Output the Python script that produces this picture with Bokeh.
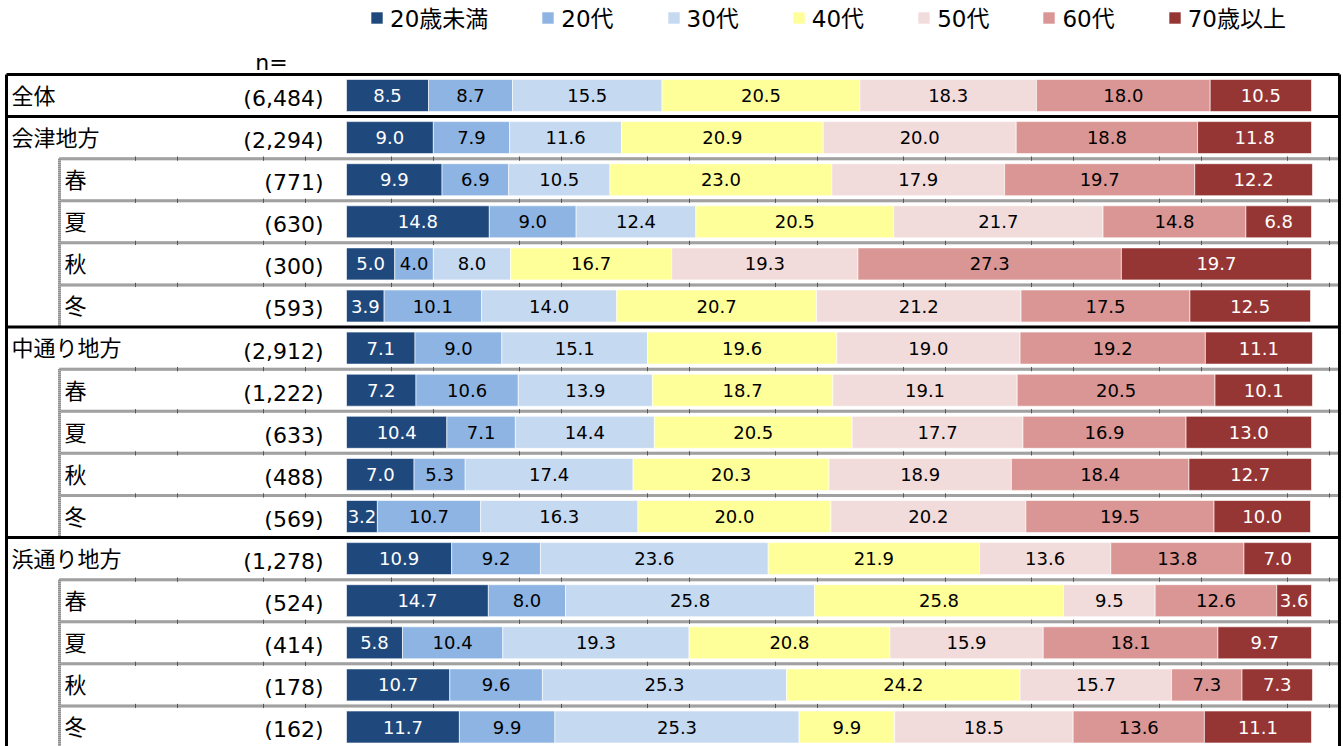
from bokeh.plotting import figure
from bokeh.models import ColumnDataSource, Range1d, Label
from bokeh.embed import file_html
from bokeh.resources import INLINE
from bokeh.core.properties import value

# ---------------- data ----------------
rows = ["全体", "会津地方", "春", "夏", "秋", "冬",
        "中通り地方", "春", "夏", "秋", "冬",
        "浜通り地方", "春", "夏", "秋", "冬"]
n_labels = ["(6,484)", "(2,294)", "(771)", "(630)", "(300)", "(593)",
            "(2,912)", "(1,222)", "(633)", "(488)", "(569)",
            "(1,278)", "(524)", "(414)", "(178)", "(162)"]
is_sub = [False, False, True, True, True, True,
          False, True, True, True, True,
          False, True, True, True, True]
series = ["20歳未満", "20代", "30代", "40代", "50代", "60代", "70歳以上"]
colors = ["#1F497D", "#8DB4E2", "#C5D9F1", "#FFFF99", "#F2DCDB", "#DA9694", "#963634"]
text_colors = ["white", "black", "black", "black", "black", "black", "white"]

under20 = [8.5, 9.0, 9.9, 14.8, 5.0, 3.9, 7.1, 7.2, 10.4, 7.0, 3.2, 10.9, 14.7, 5.8, 10.7, 11.7]
age20 = [8.7, 7.9, 6.9, 9.0, 4.0, 10.1, 9.0, 10.6, 7.1, 5.3, 10.7, 9.2, 8.0, 10.4, 9.6, 9.9]
age30 = [15.5, 11.6, 10.5, 12.4, 8.0, 14.0, 15.1, 13.9, 14.4, 17.4, 16.3, 23.6, 25.8, 19.3, 25.3, 25.3]
age40 = [20.5, 20.9, 23.0, 20.5, 16.7, 20.7, 19.6, 18.7, 20.5, 20.3, 20.0, 21.9, 25.8, 20.8, 24.2, 9.9]
age50 = [18.3, 20.0, 17.9, 21.7, 19.3, 21.2, 19.0, 19.1, 17.7, 18.9, 20.2, 13.6, 9.5, 15.9, 15.7, 18.5]
age60 = [18.0, 18.8, 19.7, 14.8, 27.3, 17.5, 19.2, 20.5, 16.9, 18.4, 19.5, 13.8, 12.6, 18.1, 7.3, 13.6]
over70 = [10.5, 11.8, 12.2, 6.8, 19.7, 12.5, 11.1, 10.1, 13.0, 12.7, 10.0, 7.0, 3.6, 9.7, 7.3, 11.1]

values = [under20, age20, age30, age40, age50, age60, over70]

# ---------------- layout helpers ----------------
W, H = 1343, 746
X0, S = 346.0, 9.65           # pixel of 0 % and pixels per %
Y0, R = 95.0, 42.1            # pixel of first row centre and pixels per row


def rx(px):
    return (px - X0) / S


def ry(py):
    return (py - Y0) / R


x_start, x_end = -X0 / S, (W - X0) / S
y_bottom, y_top = (H - Y0) / R, -Y0 / R

p = figure(width=W, height=H, x_range=Range1d(x_start, x_end),
           y_range=Range1d(y_bottom, y_top), output_backend="svg",
           toolbar_location=None, min_border=0, x_axis_type=None,
           y_axis_type=None)
p.outline_line_color = None
p.background_fill_color = "white"
p.border_fill_color = "white"

# ---------------- table lines ----------------
xL, xR, xD = rx(6), rx(1339), rx(59)
nrows = len(rows)

dot_y = [i - 0.5 for i in range(1, nrows) if is_sub[i]]
p.segment(x0=[xD] * len(dot_y), x1=[xR] * len(dot_y), y0=dot_y, y1=dot_y,
          line_color="#c4c4c4", line_width=3)
p.segment(x0=[xD] * len(dot_y), x1=[xR] * len(dot_y), y0=dot_y, y1=dot_y,
          line_color="#7f7f7f", line_width=3, line_dash="1 1")

blocks = []
i = 0
while i < nrows:
    if is_sub[i]:
        j = i
        while j + 1 < nrows and is_sub[j + 1]:
            j += 1
        blocks.append((i - 0.5, j + 0.5 if j + 1 < nrows else y_bottom + 1))
        i = j + 1
    else:
        i += 1
for b0, b1 in blocks:
    p.segment(x0=[xD], x1=[xD], y0=[b0], y1=[b1], line_color="#c4c4c4", line_width=3)
    p.segment(x0=[xD], x1=[xD], y0=[b0], y1=[b1], line_color="#7f7f7f",
              line_width=3, line_dash="1 1")

tick_ref = [135, 177, 263, 305, 391, 433, 519, 561, 647, 689, 775, 817,
            903, 945, 1031, 1073, 1159, 1201, 1287, 1329]
tx0, ty0, ty1 = [], [], []
for yy in dot_y:
    for t in tick_ref:
        tx0.append(rx(t))
        ty0.append(yy - 0.05)
        ty1.append(yy + 0.05)
p.segment(x0=tx0, x1=tx0, y0=ty0, y1=ty1, line_color="#555555", line_width=1)

thick_y = [-0.5] + [i - 0.5 for i in range(1, nrows) if not is_sub[i]]
p.segment(x0=[xL] * len(thick_y), x1=[xR] * len(thick_y), y0=thick_y, y1=thick_y,
          line_color="black", line_width=3)
p.segment(x0=[xL, xR], x1=[xL, xR], y0=[-0.5, -0.5], y1=[y_bottom + 1, y_bottom + 1],
          line_color="black", line_width=3)

# ---------------- bars ----------------
data = {"y": list(range(nrows))}
keys = []
for k, vals in enumerate(values):
    key = "s%d" % k
    keys.append(key)
    data[key] = vals
src = ColumnDataSource(data)
p.hbar_stack(keys, y="y", height=0.76, color=colors, source=src,
             legend_label=series, line_color="white", line_alpha=0.6, line_width=1)

lx, ly, lt, lc = [], [], [], []
for r in range(nrows):
    cum = 0.0
    for k, vals in enumerate(values):
        v = vals[r]
        lx.append(cum + v / 2)
        ly.append(r)
        lt.append("%.1f" % v)
        lc.append(text_colors[k])
        cum += v
p.text(x="x", y="y", text="t", text_color="c",
       source=ColumnDataSource(dict(x=lx, y=ly, t=lt, c=lc)),
       text_align="center", text_baseline="middle",
       text_font=value("DejaVu Sans"), text_font_size="18px")

cat_x = [rx(64) if s else rx(11) for s in is_sub]
p.text(x="x", y="y", text="t",
       source=ColumnDataSource(dict(x=cat_x, y=[r - 0.04 for r in range(nrows)], t=rows)),
       text_align="left", text_baseline="middle", text_color="black",
       text_font=value("Noto Sans CJK JP"), text_font_size="22px")
p.text(x="x", y="y", text="t",
       source=ColumnDataSource(dict(x=[rx(323)] * nrows, y=[r + 0.07 for r in range(nrows)], t=n_labels)),
       text_align="right", text_baseline="middle", text_color="black",
       text_font=value("DejaVu Sans"), text_font_size="22px")

p.add_layout(Label(x=rx(271), y=ry(62), text="n=", text_align="center",
                   text_baseline="middle", text_font="DejaVu Sans",
                   text_font_size="22px", text_color="black"))

# ---------------- legend ----------------
lg = p.legend[0]
lg.orientation = "horizontal"
lg.location = (369, 712)
lg.border_line_alpha = 0
lg.background_fill_alpha = 0
lg.padding = 0
lg.margin = 0
lg.glyph_width = 15
lg.glyph_height = 15
lg.label_standoff = 6
lg.spacing = 52
lg.label_text_font = "DejaVu Sans, Noto Sans CJK JP"
lg.label_text_font_size = "23px"
lg.label_text_color = "black"

open("out.html", "w").write(file_html(p, INLINE))
